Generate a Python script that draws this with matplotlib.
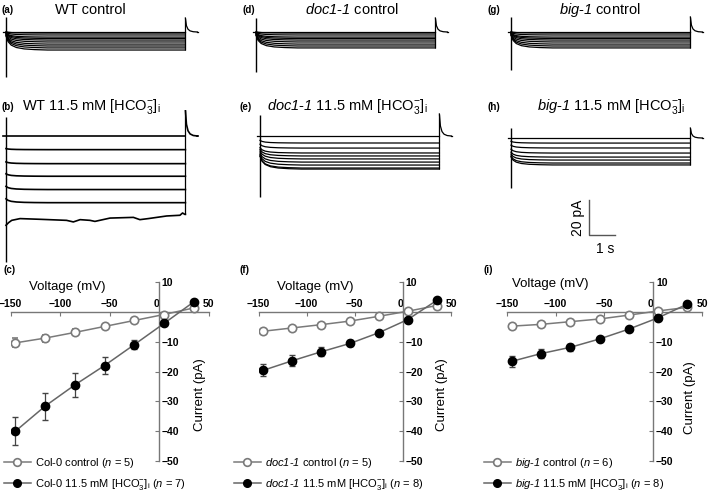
import matplotlib.pyplot as plt
from matplotlib.lines import Line2D

plt.rcParams['font.family'] = ['Liberation Sans', 'DejaVu Sans']
plt.rcParams['mathtext.fontset'] = 'custom'
plt.rcParams['mathtext.rm'] = 'Liberation Sans'
plt.rcParams['mathtext.it'] = 'Liberation Sans:italic'
plt.rcParams['mathtext.sf'] = 'Liberation Sans:italic'
plt.rcParams['mathtext.bf'] = 'Liberation Sans:bold'

# ---- current traces (pA), one value per voltage step, top trace = holding ----
pulse_s = 6.9
onset_t = [0, 0.08, 0.2, 0.4, 0.7, 1.1, 1.6]
onset_frac = [1, 0.6, 0.35, 0.18, 0.08, 0.03, 0]
tail_t = [0, 0.04, 0.1, 0.18, 0.3, 0.46]
tail_frac = [1, 0.45, 0.2, 0.08, 0.02, 0]

a_levels = [0, -0.6, -1.7, -2.9, -3.7, -4.6, -5.7, -6.9, -8.0, -9.1, -10.3]
a_over = [0, 0.8, 1.6, 2.4, 3.2, 4.0, 4.8, 5.6, 6.4, 7.2, 8.0]
b_levels = [0, -7.8, -15.8, -23.0, -30.6, -38.1]
b_over = [0, 0.6, 1.0, 1.4, 1.8, 2.2]
b_last_t = [0, 0.1, 0.22, 0.54, 1.31, 2.33, 2.59, 2.85, 3.23, 3.42, 4.0, 4.9, 5.15, 5.47,
            6.18, 6.69, 6.79, 6.88, 6.9]
b_last_i = [-51, -49.5, -48.2, -47.2, -47.6, -48.2, -49.1, -47.8, -48.2, -48.8, -46.9, -46.5,
            -47.8, -47.2, -45.7, -45.3, -44.0, -44.8, -44.8]
d_levels = [0, -0.6, -1.7, -2.9, -3.7, -4.6, -5.7, -6.9, -8.0, -9.1]
d_over = [0, 0.8, 1.6, 2.4, 3.2, 4.0, 4.8, 5.6, 6.4, 7.2]
e_levels = [0, -4.0, -6.9, -9.7, -11.4, -13.1, -14.9, -16.6, -18.3, -18.9]
e_over = [0, 1.5, 2.2, 3.0, 3.8, 4.5, 5.2, 6.0, 6.8, 7.5]
g_levels = [0, -0.6, -1.7, -2.9, -3.7, -4.6, -5.7, -6.9, -8.0, -9.1]
g_over = [0, 0.8, 1.6, 2.4, 3.2, 4.0, 4.8, 5.6, 6.4, 7.2]
h_levels = [0, -2.9, -5.7, -8.6, -10.9, -12.6, -14.3, -15.4]
h_over = [0, 1.0, 1.6, 2.2, 2.8, 3.4, 4.0, 4.6]

# ---- I-V data ----
voltage = [-145, -115, -85, -55, -25, 5, 35]
c_ctrl = [-10.4, -8.8, -6.9, -4.9, -2.9, -0.9, 1.3]
c_ctrl_err = [1.5, 1.2, 1.0, 0.7, 0.5, 0.3, 0.3]
c_hco3 = [-40.0, -31.6, -24.5, -18.0, -11.0, -3.9, 3.3]
c_hco3_err = [4.8, 4.5, 4.0, 2.8, 1.6, 0.6, 0.5]
f_ctrl = [-6.5, -5.4, -4.3, -3.1, -1.5, 0.2, 2.1]
f_ctrl_err = [0.9, 0.7, 0.6, 0.5, 0.4, 0.3, 0.3]
f_hco3 = [-19.6, -16.4, -13.4, -10.6, -7.0, -2.6, 3.8]
f_hco3_err = [2.0, 1.8, 1.5, 1.0, 0.6, 0.4, 0.4]
i_ctrl = [-4.8, -4.2, -3.3, -2.4, -1.1, 0.3, 1.5]
i_ctrl_err = [0.7, 0.6, 0.5, 0.4, 0.3, 0.2, 0.2]
i_hco3 = [-16.6, -14.0, -11.9, -9.1, -5.8, -2.0, 2.6]
i_hco3_err = [1.8, 1.5, 1.2, 0.8, 0.5, 0.4, 0.3]
x_ticks = [-150, -100, -50, 0, 50]
y_ticks = [-50, -40, -30, -20, -10, 0, 10]

W, H = 709, 492
fig = plt.figure(figsize=(W / 100, H / 100), dpi=100)

PX_PER_S = 26.0
PX_PER_PA = 1.75


def px_axes(x0, y0, x1, y1):
    return fig.add_axes([x0 / W, 1 - y1 / H, (x1 - x0) / W, (y1 - y0) / H])


def ftext(x, y, s, **kw):
    fig.text(x / W, 1 - y / H, s, **kw)


def traces(box, t0_px, base_px, levels, over, spike, tail_top, last=None, lw=0.9):
    ax = px_axes(*box)
    ax.axis('off')
    ax.set_xlim((box[0] - t0_px) / PX_PER_S, (box[2] - t0_px) / PX_PER_S)
    ax.set_ylim((base_px - box[3]) / PX_PER_PA, (base_px - box[1]) / PX_PER_PA)
    kw = dict(color='black', lw=lw, solid_joinstyle='round')
    ax.plot([-0.12, pulse_s], [0, 0], **kw)
    for lev, ov in zip(levels[1:], over[1:]):
        t = onset_t + [pulse_s]
        cur = [lev + ov * f for f in onset_frac] + [lev]
        ax.plot(t, cur, **kw)
    bottom = min(levels)
    if last is not None:
        ax.plot(last[0], last[1], **kw)
        bottom = min(last[1][-3:])
    ax.vlines(0, spike[1], spike[0], color='black', lw=1.0)
    ax.vlines(pulse_s, bottom, tail_top, color='black', lw=0.9)
    ax.plot([pulse_s + t for t in tail_t], [tail_top * f for f in tail_frac], **kw)
    ax.plot([pulse_s + tail_t[-1], pulse_s + 0.5], [0, 0], **kw)
    return ax


# top row
traces((0, 10, 240, 90), 6, 32, a_levels, a_over, (8.6, -25.7), 8.0)
traces((240, 10, 475, 90), 256, 32, d_levels, d_over, (8.0, -22.9), 8.0)
traces((480, 10, 709, 90), 511, 32, g_levels, g_over, (8.6, -21.7), 8.6)
# middle row
traces((0, 110, 240, 270), 6, 136, b_levels, b_over, (10.9, -72.0), 14.9,
       last=(b_last_t, b_last_i), lw=1.2)
traces((240, 110, 475, 270), 260, 136, e_levels, e_over, (12.0, -35.0), 12.6)
ax_h = traces((480, 110, 709, 260), 511, 138, h_levels, h_over, (5.7, -28.6), 5.7)
# scale bar in panel h: 1 s, 20 pA
sb_t, sb_i = 3.0, -55.4
ax_h.plot([sb_t, sb_t, sb_t + 1], [sb_i + 20, sb_i, sb_i], color='#555555', lw=1.0)
ftext(578, 218, '20 pA', rotation=90, ha='center', va='center', fontsize=10)
ftext(605, 249, '1 s', ha='center', va='center', fontsize=10)

# titles
tag_kw = dict(fontsize=7, fontweight='bold', va='center', ha='left')
title_kw = dict(fontsize=10.5, va='center')
hco3 = r'11.5 mM [HCO$_3^{-}$]$_\mathregular{i}$'
doc = r'$\mathsf{doc1}$-$\mathsf{1}$'
big = r'$\mathsf{big}$-$\mathsf{1}$'
ftext(2, 10, '(a)', **tag_kw)
ftext(90, 10, 'WT control', ha='center', **title_kw)
ftext(242, 10, '(d)', **tag_kw)
ftext(352, 10, doc + ' control', ha='center', **title_kw)
ftext(487, 10, '(g)', **tag_kw)
ftext(600, 10, big + ' control', ha='center', **title_kw)
ftext(2, 107, '(b)', **tag_kw)
ftext(22, 107, 'WT ' + hco3, ha='left', **title_kw)
ftext(240, 107, '(e)', **tag_kw)
ftext(267, 107, doc + ' ' + hco3, ha='left', **title_kw)
ftext(487, 107, '(h)', **tag_kw)
ftext(537, 107, big + ' ' + hco3, ha='left', **title_kw)


def iv_panel(x0, x1, ctrl, ctrl_err, hco, hco_err, labels, legend_x, vlab, ilab, tag_xy, tag):
    ax = px_axes(x0, 282, x1, 461)
    ax.set_xlim(-150, 50)
    ax.set_ylim(-50, 10)
    ax.patch.set_visible(False)
    ax.spines['left'].set_visible(False)
    ax.spines['bottom'].set_visible(False)
    ax.spines['top'].set_position(('data', 0))
    ax.spines['right'].set_position(('data', 0))
    for s in ('top', 'right'):
        ax.spines[s].set_color('#777777')
        ax.spines[s].set_linewidth(1.0)
    ax.xaxis.set_ticks_position('top')
    ax.yaxis.set_ticks_position('right')
    ax.tick_params(direction='in', length=3, width=0.8, color='#777777',
                   labelsize=7.5, pad=2)
    ax.set_xticks(x_ticks)
    ax.set_xticklabels([f'{v:d}'.replace('-', '\u2212') for v in x_ticks], fontweight='bold')
    ax.get_xticklabels()[3].set_horizontalalignment('right')
    ax.set_yticks(y_ticks)
    ax.set_yticklabels(['' if v == 0 else f'{v:d}'.replace('-', '\u2212') for v in y_ticks],
                       fontweight='bold')
    ax.errorbar(voltage, ctrl, yerr=ctrl_err, fmt='-o', color='#7a7a7a', mfc='white',
                mec='#7a7a7a', mew=1.2, ms=6, ecolor='#7a7a7a', elinewidth=0.9,
                capsize=2, lw=1.1, zorder=3)
    ax.errorbar(voltage, hco, yerr=hco_err, fmt='-o', color='#666666', mfc='black',
                mec='black', ms=6, ecolor='#444444', elinewidth=0.9, capsize=2,
                lw=1.1, zorder=4)
    handles = [Line2D([], [], color='#7a7a7a', marker='o', mfc='white', mec='#7a7a7a',
                      mew=1.2, ms=5.5, lw=1.1),
               Line2D([], [], color='#666666', marker='o', mfc='black', mec='black',
                      ms=5.5, lw=1.1)]
    ax.legend(handles, labels, loc='upper left', bbox_to_anchor=(legend_x / W, 1 - 456 / H),
              bbox_transform=fig.transFigure, frameon=False, fontsize=8,
              handlelength=2.4, handletextpad=0.4, labelspacing=0.62,
              borderpad=0, borderaxespad=0)
    ftext(vlab[0], vlab[1], 'Voltage (mV)', ha='center', va='center', fontsize=9.5)
    ftext(ilab[0], ilab[1], 'Current (pA)', ha='center', va='center', fontsize=9.5,
          rotation=90)
    ftext(tag_xy[0], tag_xy[1], tag, **tag_kw)


hco_leg = r'11.5 mM [HCO$_3^{-}$]$_\mathregular{i}$'
n_it = r'$\mathit{n}$'
iv_panel(10.5, 208.5, c_ctrl, c_ctrl_err, c_hco3, c_hco3_err,
         [f'Col-0 control ({n_it} = 5)', f'Col-0 {hco_leg} ({n_it} = 7)'],
         4, (67, 287), (200, 395), (3, 270), '(c)')
iv_panel(258.5, 451, f_ctrl, f_ctrl_err, f_hco3, f_hco3_err,
         [f'{doc} control ({n_it} = 5)', f'{doc} {hco_leg} ({n_it} = 8)'],
         234, (315, 287), (442, 395), (240, 270), '(f)')
iv_panel(506.8, 702, i_ctrl, i_ctrl_err, i_hco3, i_hco3_err,
         [f'{big} control ({n_it} = 6)', f'{big} {hco_leg} ({n_it} = 8)'],
         484, (550, 284), (690, 398), (483, 270), '(i)')

fig.savefig('out.png', dpi=100)
